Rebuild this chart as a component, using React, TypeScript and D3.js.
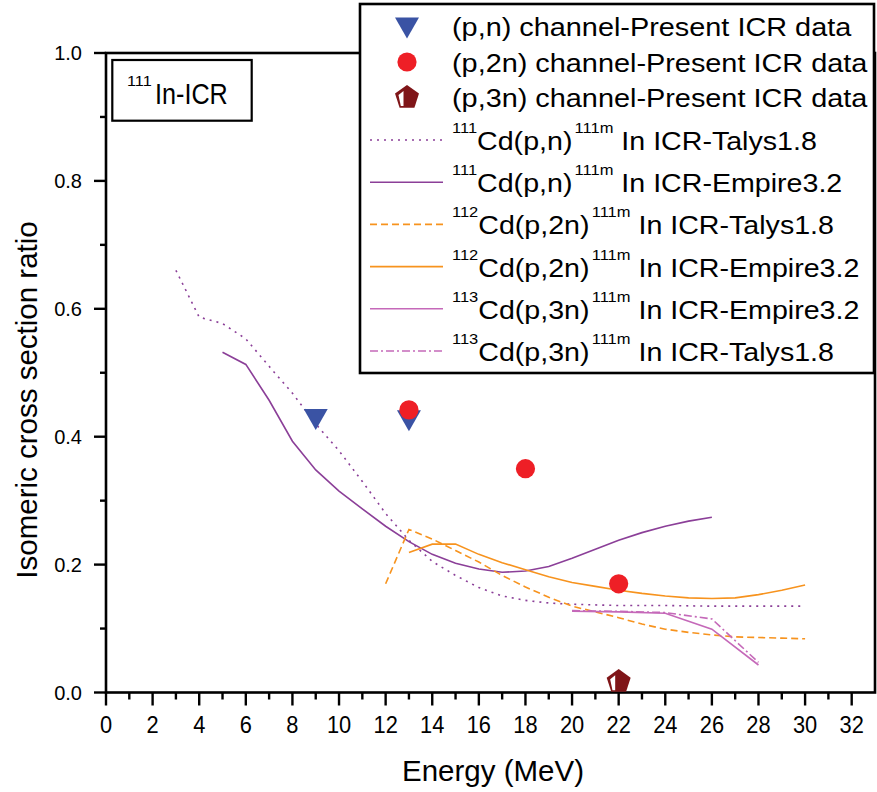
import React from "react";
import * as d3 from "d3";

const W = 877;
const H = 792;
const FONT = "'Liberation Sans', Arial, Helvetica, sans-serif";

// Measured isomeric cross-section ratios (present work)
const pnEnergy = [9, 13];
const pnRatio = [0.427, 0.425];
const p2nEnergy = [13, 18, 22];
const p2nRatio = [0.442, 0.35, 0.17];
const p3nEnergy = [22];
const p3nRatio = [0.017];

// Model calculations
const talysPnEnergy = [3, 4, 5, 6, 7, 8, 9, 10, 11, 12, 13, 14, 15, 16, 17, 18, 19, 20, 22, 24, 26, 28, 30];
const talysPnRatio = [0.66, 0.587, 0.577, 0.553, 0.51, 0.468, 0.42, 0.378, 0.33, 0.28, 0.238, 0.205, 0.183, 0.164, 0.151, 0.144, 0.14, 0.138, 0.136, 0.136, 0.135, 0.135, 0.135];

const empirePnEnergy = [5, 6, 7, 8, 9, 10, 11, 12, 13, 14, 15, 16, 17, 18, 19, 20, 21, 22, 23, 24, 25, 26];
const empirePnRatio = [0.532, 0.513, 0.457, 0.393, 0.348, 0.315, 0.287, 0.26, 0.236, 0.216, 0.202, 0.193, 0.188, 0.19, 0.197, 0.21, 0.224, 0.238, 0.25, 0.26, 0.268, 0.274];

const talysP2nEnergy = [12, 13, 14, 15, 16, 17, 18, 19, 20, 21, 22, 23, 24, 25, 26, 27, 28, 29, 30];
const talysP2nRatio = [0.17, 0.255, 0.24, 0.222, 0.204, 0.183, 0.165, 0.149, 0.135, 0.126, 0.117, 0.107, 0.099, 0.094, 0.09, 0.087, 0.086, 0.085, 0.084];

const empireP2nEnergy = [13, 14, 15, 16, 17, 18, 19, 20, 21, 22, 23, 24, 25, 26, 27, 28, 29, 30];
const empireP2nRatio = [0.219, 0.232, 0.232, 0.216, 0.203, 0.192, 0.181, 0.172, 0.166, 0.16, 0.155, 0.151, 0.148, 0.147, 0.148, 0.153, 0.16, 0.168];

const empireP3nEnergy = [20, 22, 24, 26, 28];
const empireP3nRatio = [0.127, 0.126, 0.124, 0.099, 0.043];

const talysP3nEnergy = [20, 22, 24, 26, 28];
const talysP3nRatio = [0.128, 0.127, 0.125, 0.115, 0.047];

// Axis ticks
const xMajorTicks = [0, 2, 4, 6, 8, 10, 12, 14, 16, 18, 20, 22, 24, 26, 28, 30, 32];
const xMinorTicks = [1, 3, 5, 7, 9, 11, 13, 15, 17, 19, 21, 23, 25, 27, 29, 31];
const yMajorTicks = [0, 0.2, 0.4, 0.6, 0.8, 1.0];
const yMinorTicks = [0.1, 0.3, 0.5, 0.7, 0.9];

const C_PURPLE = "#8b3f98";
const C_ORANGE = "#f7931e";
const C_PINK = "#c569b9";
const C_BLUE = "#3a53a4";
const C_RED = "#ee1f26";
const C_DARKRED = "#7f1518";

type LineSeries = {
  energy: number[];
  ratio: number[];
  color: string;
  dash: string;
  pre: string;
  reaction: string;
  model: string;
};

const lineSeries: LineSeries[] = [
  { energy: talysPnEnergy, ratio: talysPnRatio, color: C_PURPLE, dash: "2 5", pre: "111", reaction: "Cd(p,n)", model: " In ICR-Talys1.8" },
  { energy: empirePnEnergy, ratio: empirePnRatio, color: C_PURPLE, dash: "", pre: "111", reaction: "Cd(p,n)", model: " In ICR-Empire3.2" },
  { energy: talysP2nEnergy, ratio: talysP2nRatio, color: C_ORANGE, dash: "7 4", pre: "112", reaction: "Cd(p,2n)", model: " In ICR-Talys1.8" },
  { energy: empireP2nEnergy, ratio: empireP2nRatio, color: C_ORANGE, dash: "", pre: "112", reaction: "Cd(p,2n)", model: " In ICR-Empire3.2" },
  { energy: empireP3nEnergy, ratio: empireP3nRatio, color: C_PINK, dash: "", pre: "113", reaction: "Cd(p,3n)", model: " In ICR-Empire3.2" },
  { energy: talysP3nEnergy, ratio: talysP3nRatio, color: C_PINK, dash: "8 3 2 3", pre: "113", reaction: "Cd(p,3n)", model: " In ICR-Talys1.8" },
];

const pointLabels = [
  "(p,n) channel-Present ICR data",
  "(p,2n) channel-Present ICR data",
  "(p,3n) channel-Present ICR data",
];

const x = d3.scaleLinear().domain([0, 33]).range([106, 875]);
const y = d3.scaleLinear().domain([0, 1]).range([692.5, 53]);

function triangleDown(cx: number, cy: number) {
  const w = 24;
  const h = 21;
  return `M${cx - w / 2},${cy - h / 2}L${cx + w / 2},${cy - h / 2}L${cx},${cy + h / 2}Z`;
}

function Pentagon({ cx, cy }: { cx: number; cy: number }) {
  const r = 12.6;
  const pts = d3.range(5).map((k) => {
    const a = ((-90 + 72 * k) * Math.PI) / 180;
    return [cx + r * Math.cos(a), cy + r * Math.sin(a)];
  });
  const inner = [
    [-8.5, -2.5],
    [-3.5, -6.5],
    [-3.5, 8.6],
    [-6.2, 8.6],
  ].map(([dx, dy]) => [cx + dx, cy + dy]);
  return (
    <g>
      <polygon points={pts.map((p) => p.join(",")).join(" ")} fill={C_DARKRED} />
      <polygon points={inner.map((p) => p.join(",")).join(" ")} fill="#fff" />
    </g>
  );
}

export default function App() {
  const line = d3
    .line<[number, number]>()
    .x((d) => x(d[0]))
    .y((d) => y(d[1]));

  const plotLeft = x(0);
  const plotRight = x(33);
  const plotTop = y(1);
  const plotBottom = y(0);

  const legX = 360;
  const legY = 4;
  const legW = 514;
  const legH = 369;
  const symX = 407;
  const textX = 452;

  return (
    <svg
      width={W}
      height={H}
      viewBox={`0 0 ${W} ${H}`}
      style={{ position: "absolute", left: 0, top: 0, background: "#fff" }}
      fontFamily={FONT}
    >
      <rect x={0} y={0} width={W} height={H} fill="#fff" />

      {/* model curves */}
      {lineSeries.map((s, i) => (
        <path
          key={"c" + i}
          d={line(s.energy.map((e, j) => [e, s.ratio[j]] as [number, number])) || ""}
          fill="none"
          stroke={s.color}
          strokeWidth={1.6}
          strokeDasharray={s.dash || undefined}
        />
      ))}

      {/* frame */}
      <rect
        x={plotLeft}
        y={plotTop}
        width={plotRight - plotLeft}
        height={plotBottom - plotTop}
        fill="none"
        stroke="#000"
        strokeWidth={2.6}
      />

      {/* x axis ticks */}
      {xMajorTicks.map((t) => (
        <g key={"xt" + t}>
          <line x1={x(t)} x2={x(t)} y1={plotBottom} y2={plotBottom + 13} stroke="#000" strokeWidth={2.4} />
          <text
            transform={`translate(${x(t)},733) scale(0.95,1)`}
            textAnchor="middle"
            fontSize={23}
            fill="#000"
          >
            {t}
          </text>
        </g>
      ))}
      {xMinorTicks.map((t) => (
        <line key={"xm" + t} x1={x(t)} x2={x(t)} y1={plotBottom} y2={plotBottom + 7} stroke="#000" strokeWidth={2.4} />
      ))}

      {/* y axis ticks */}
      {yMajorTicks.map((t) => (
        <g key={"yt" + t}>
          <line x1={plotLeft - 12} x2={plotLeft} y1={y(t)} y2={y(t)} stroke="#000" strokeWidth={2.4} />
          <text x={82} y={y(t) + 7} textAnchor="end" fontSize={20} fill="#000">
            {d3.format(".1f")(t)}
          </text>
        </g>
      ))}
      {yMinorTicks.map((t) => (
        <line key={"ym" + t} x1={plotLeft - 6} x2={plotLeft} y1={y(t)} y2={y(t)} stroke="#000" strokeWidth={2.4} />
      ))}

      {/* axis titles */}
      <text x={493} y={781} textAnchor="middle" fontSize={29.5} fill="#000">
        Energy (MeV)
      </text>
      <text transform="translate(37,400) rotate(-90)" textAnchor="middle" fontSize={29.5} fill="#000">
        Isomeric cross section ratio
      </text>

      {/* measured points */}
      {pnEnergy.map((e, i) => (
        <path key={"pn" + i} d={triangleDown(x(e), y(pnRatio[i]))} fill={C_BLUE} />
      ))}
      {p2nEnergy.map((e, i) => (
        <circle key={"p2n" + i} cx={x(e)} cy={y(p2nRatio[i])} r={9.6} fill={C_RED} />
      ))}
      {p3nEnergy.map((e, i) => (
        <Pentagon key={"p3n" + i} cx={x(e)} cy={y(p3nRatio[i])} />
      ))}

      {/* nuclide label */}
      <rect x={112.3} y={60} width={139.4} height={60.7} fill="#fff" stroke="#000" strokeWidth={2.2} />
      <text transform="translate(127,86) scale(1.05,1)" fontSize={15.5} fill="#000">111</text>
      <text transform="translate(155,104.3) scale(0.84,1)" fontSize={30} fill="#000">
        In-ICR
      </text>

      {/* legend */}
      <rect x={legX} y={legY} width={legW} height={legH} fill="#fff" stroke="#000" strokeWidth={2.6} />
      <path d={triangleDown(symX, 28)} fill={C_BLUE} />
      <circle cx={symX} cy={62} r={9.6} fill={C_RED} />
      <Pentagon cx={symX} cy={97.5} />
      {pointLabels.map((lab, i) => (
        <text
          key={"pl" + i}
          transform={`translate(${textX},${36 + i * 35.5}) scale(1.11,1)`}
          fontSize={26}
          fill="#000"
        >
          {lab}
        </text>
      ))}
      {lineSeries.map((s, i) => {
        const cy = 140 + i * 42.2;
        return (
          <g key={"ll" + i}>
            <line x1={370} x2={443} y1={cy} y2={cy} stroke={s.color} strokeWidth={1.6} strokeDasharray={s.dash || undefined} />
            <text transform={`translate(${textX},${cy + 10}) scale(1.1,1)`} fontSize={26} fill="#000">
              <tspan fontSize={15} dy={-17}>{s.pre}</tspan>
              <tspan dy={17}>{s.reaction}</tspan>
              <tspan fontSize={15} dy={-17} dx={2}>111m</tspan>
              <tspan dy={17}>{s.model}</tspan>
            </text>
          </g>
        );
      })}
    </svg>
  );
}
